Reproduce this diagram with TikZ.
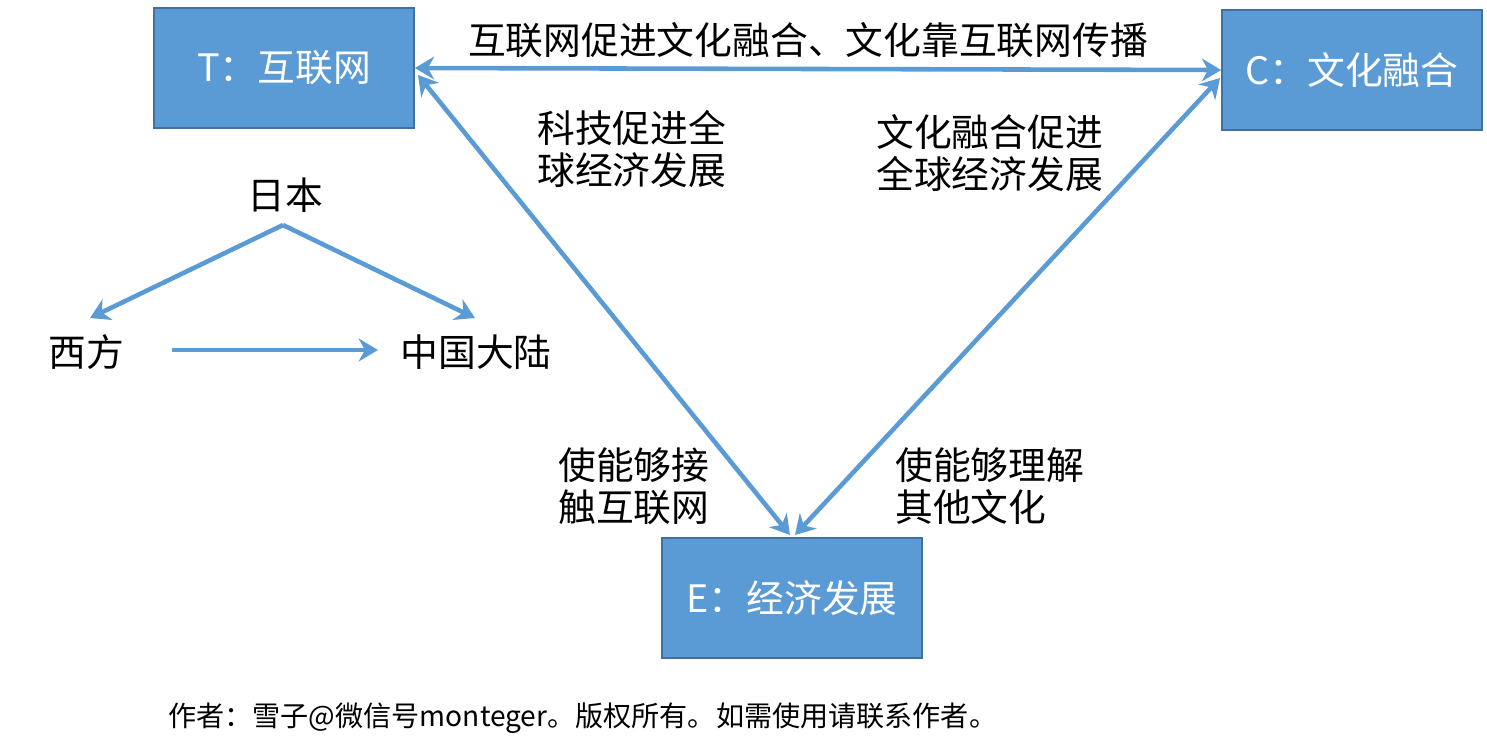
\documentclass[tikz,border=0pt]{standalone}
\usepackage{fontspec}
\setmainfont{Noto Sans CJK SC}
\usetikzlibrary{arrows.meta,positioning}
\definecolor{boxblue}{RGB}{91,155,213}
\definecolor{boxline}{RGB}{65,113,156}
\tikzset{
  topic/.style={draw=boxline,line width=1pt,fill=boxblue,text=white,
    minimum width=5.2cm,minimum height=2.4cm,font=\fontsize{21.5}{25}\selectfont},
  link/.style={draw=boxblue,line width=2.6pt,
    arrows={Stealth[length=11pt,width=13pt]-Stealth[length=11pt,width=13pt]}},
  oneway/.style={draw=boxblue,line width=2.6pt,-{Stealth[length=11pt,width=13pt]}},
  note/.style={align=left,font=\fontsize{21.5}{24}\selectfont,inner sep=0pt}
}
\begin{document}
\begin{tikzpicture}[x=0.02cm,y=-0.02cm]
    \useasboundingbox (0,0) rectangle (1487,755);
    % three topic boxes
    \node[topic] (tech) at (284,68)  {T：互联网};
    \node[topic] (cult) at (1352,70) {C：文化融合};
    \node[topic] (econ) at (792,598) {E：经济发展};

    \path[link] (tech.east) -- (cult.west);
    \path[link] (418,75) -- (790,535);
    \path[link] (1220,78) -- (795,535);

    \node[note] (tc) at (808,40) {互联网促进文化融合、文化靠互联网传播};
    \node[note,anchor=north west] (te) at (537,110) {科技促进全\\球经济发展};
    \node[note,anchor=north west] (ce) at (876,114) {文化融合促进\\全球经济发展};
    \node[note,anchor=north west] (et) at (558,447) {使能够接\\触互联网};
    \node[note,anchor=north west] (ec) at (895,447) {使能够理解\\其他文化};

    % small side diagram
    \node[note] (jp) at (285,195) {日本};
    \node[note] (west) at (86,352) {西方};
    \node[note] (cn) at (476,352) {中国大陆};
    \coordinate (fork) at (283,225);
    \path[oneway] (fork) -- (90,318);
    \path[oneway] (fork) -- (475,318);
    \path[oneway] (172,350) -- (378,350);

    \node[anchor=west,inner sep=0pt,font=\fontsize{16}{18}\selectfont] (foot) at (168,718)
      {作者：雪子@微信号monteger。版权所有。如需使用请联系作者。};
\end{tikzpicture}
\end{document}
